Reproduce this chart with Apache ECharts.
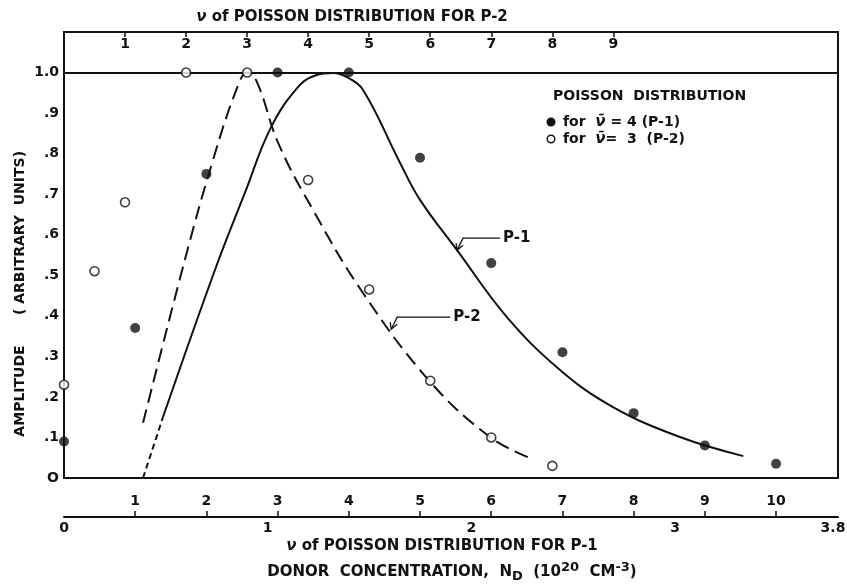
<!DOCTYPE html>
<html>
<head>
<meta charset="utf-8">
<script src="https://cdn.jsdelivr.net/npm/echarts@6/dist/echarts.min.js"></script>
<style>
  html, body { margin: 0; padding: 0; background: #fff; }
  #chart { width: 847px; height: 584px; }
</style>
</head>
<body>
<div id="chart"></div>
<script>
// measured points, P-1 on the bottom nu axis, P-2 on the top nu axis
var p1Nu = [0, 1, 2, 3, 4, 5, 6, 7, 8, 9, 10];
var p1Amp = [0.09, 0.37, 0.75, 1.0, 1.0, 0.79, 0.53, 0.31, 0.16, 0.08, 0.035];
var p2Nu = [0, 0.5, 1, 2, 3, 4, 5, 6, 7, 8];
var p2Amp = [0.23, 0.51, 0.68, 1.0, 1.0, 0.735, 0.465, 0.24, 0.10, 0.03];

// drawn curves
var p1CurveNu = [1.39, 2.12, 2.54, 2.91, 3.31, 3.55, 3.78, 3.97, 4.20, 4.72, 5.0, 5.52, 6.22, 6.97, 7.71, 8.65, 9.54];
var p1CurveAmp = [0.15, 0.513, 0.703, 0.866, 0.969, 0.994, 0.999, 0.989, 0.957, 0.777, 0.686, 0.562, 0.397, 0.266, 0.175, 0.101, 0.054];
var p1FootNu = [1.11, 1.39];
var p1FootAmp = [0, 0.15];
var p2CurveNu = [1.295, 1.98, 2.44, 2.84, 3.0, 3.16, 3.51, 4.08, 4.90, 6.0, 6.98, 7.64];
var p2CurveAmp = [0.136, 0.538, 0.784, 0.964, 1.0, 0.977, 0.826, 0.661, 0.456, 0.237, 0.101, 0.049];

var nuBottomTicks = [1, 2, 3, 4, 5, 6, 7, 8, 9, 10];
var nuTopTicks = [1, 2, 3, 4, 5, 6, 7, 8, 9];
var donorTicks = [0, 1, 2, 3, 3.8];

function pairs(xs, ys) {
  return xs.map(function (x, i) { return [x, ys[i]]; });
}

var font = 'DejaVu Sans';
var ink = '#111';
var labelStyle = { color: ink, fontFamily: font, fontSize: 14, fontWeight: 'bold' };

var chart = echarts.init(document.getElementById('chart'));

var option = {
  animation: false,
  grid: {
    left: 64, right: 9, top: 32, bottom: 106,
    outerBoundsMode: 'none', containLabel: false,
    show: true, borderColor: ink, borderWidth: 2, backgroundColor: 'transparent'
  },
  xAxis: [
    {
      type: 'value', min: 0, max: 10.87, position: 'bottom', offset: 39,
      axisLine: { show: true, onZero: false, lineStyle: { color: ink, width: 2 } },
      axisTick: { show: true, inside: true, length: 6, lineStyle: { color: ink, width: 1.5 }, customValues: nuBottomTicks },
      axisLabel: Object.assign({ inside: true, margin: 9, customValues: nuBottomTicks }, labelStyle),
      splitLine: { show: false }
    },
    {
      type: 'value', min: 0, max: 3.8, position: 'bottom', offset: 39,
      axisLine: { show: false },
      axisTick: { show: false },
      axisLabel: Object.assign({
        margin: 4, customValues: donorTicks,
        formatter: function (v) { return v > 3.5 ? '{end|' + v + '}' : String(v); },
        rich: { end: { color: ink, fontFamily: font, fontSize: 14, fontWeight: 'bold', padding: [0, 10, 0, 0] } }
      }, labelStyle),
      splitLine: { show: false }
    },
    {
      type: 'value', min: 0, max: 12.68, position: 'top',
      axisLine: { show: false },
      axisTick: { show: true, inside: true, length: 5, lineStyle: { color: ink, width: 1.5 }, customValues: nuTopTicks },
      axisLabel: Object.assign({ inside: true, margin: 5, customValues: nuTopTicks }, labelStyle),
      splitLine: { show: false }
    }
  ],
  yAxis: {
    type: 'value', min: 0, max: 1.1, interval: 0.1,
    axisLine: { show: false },
    axisTick: { show: false },
    splitLine: { show: false },
    axisLabel: Object.assign({
      margin: 5,
      formatter: function (v) {
        if (v > 1.05) return '';
        if (v < 0.01) return 'O';
        if (v > 0.95) return '1.0';
        return '.' + Math.round(v * 10);
      }
    }, labelStyle)
  },
  series: [
    {
      name: 'P-1', type: 'line', xAxisIndex: 0, smooth: 0.4, symbol: 'none',
      data: pairs(p1CurveNu, p1CurveAmp),
      lineStyle: { color: ink, width: 2 },
      markLine: {
        silent: true, symbol: 'none', label: { show: false },
        lineStyle: { color: ink, width: 2, type: 'solid' },
        data: [{ yAxis: 1.0 }]
      }
    },
    {
      name: 'P-1 foot', type: 'line', xAxisIndex: 0, symbol: 'none',
      data: pairs(p1FootNu, p1FootAmp),
      lineStyle: { color: ink, width: 2, type: [6, 4] }
    },
    {
      name: 'P-2', type: 'line', xAxisIndex: 2, smooth: 0.4, symbol: 'none',
      data: pairs(p2CurveNu, p2CurveAmp),
      lineStyle: { color: ink, width: 2, type: [14, 7] }
    },
    {
      name: 'P-1 points', type: 'scatter', xAxisIndex: 0, symbolSize: 10,
      data: pairs(p1Nu, p1Amp),
      itemStyle: { color: ink }, z: 5
    },
    {
      name: 'P-2 points', type: 'scatter', xAxisIndex: 2, symbolSize: 9,
      data: pairs(p2Nu, p2Amp),
      itemStyle: { color: '#fff', borderColor: ink, borderWidth: 1.6 }, z: 5
    }
  ]
};

chart.setOption(option);

// annotations placed from data positions on the curves
var tip1 = chart.convertToPixel({ xAxisIndex: 0, yAxisIndex: 0 }, [5.52, 0.562]);
var tip2 = chart.convertToPixel({ xAxisIndex: 2, yAxisIndex: 0 }, [5.36, 0.367]);

function pointer(tip, len, label) {
  var bx = tip[0] + 6, by = tip[1] - 12;
  return [
    { type: 'polyline', shape: { points: [[tip[0], tip[1]], [bx, by], [bx + len, by]] }, style: { stroke: ink, lineWidth: 1.3, fill: null } },
    { type: 'polyline', shape: { points: [[tip[0] - 1, tip[1] - 7], [tip[0], tip[1]], [tip[0] + 6, tip[1] - 5]] }, style: { stroke: ink, lineWidth: 1.3, fill: null } },
    { type: 'text', x: bx + len + 3, y: by, style: { text: label, font: 'bold 15px ' + font, fill: ink, textVerticalAlign: 'middle' } }
  ];
}

var titleFont = 'bold 15px ' + font;
var nuRich = { nu: { fontFamily: font, fontSize: 15, fontStyle: 'italic', fontWeight: 'bold', fill: ink } };
var ndRich = {
  sub: { fontSize: 13, fontFamily: font, fontWeight: 'bold', fill: ink, padding: [9, 0, 0, 0] },
  sup: { fontSize: 13, fontFamily: font, fontWeight: 'bold', fill: ink, padding: [0, 0, 9, 0] }
};

chart.setOption({
  graphic: pointer(tip1, 37, 'P-1').concat(pointer(tip2, 53, 'P-2')).concat([
    { type: 'text', x: 352, y: 17, style: { text: '{nu|ν} of POISSON DISTRIBUTION FOR P-2', rich: nuRich, font: titleFont, fill: ink, textAlign: 'center', textVerticalAlign: 'middle' } },
    { type: 'text', x: 442, y: 546, style: { text: '{nu|ν} of POISSON DISTRIBUTION FOR P-1', rich: nuRich, font: titleFont, fill: ink, textAlign: 'center', textVerticalAlign: 'middle' } },
    { type: 'text', x: 452, y: 572, style: {
      text: 'DONOR  CONCENTRATION,  N{sub|D}  (10{sup|20}  CM{sup|-3})',
      rich: ndRich, font: titleFont, fill: ink, textAlign: 'center', textVerticalAlign: 'middle' } },
    { type: 'text', x: 20, y: 391, rotation: Math.PI / 2, style: { text: 'AMPLITUDE', font: 'bold 14px ' + font, fill: ink, textAlign: 'center', textVerticalAlign: 'middle' } },
    { type: 'text', x: 20, y: 233, rotation: Math.PI / 2, style: { text: '( ARBITRARY  UNITS)', font: 'bold 14px ' + font, fill: ink, textAlign: 'center', textVerticalAlign: 'middle' } },
    { type: 'text', x: 553, y: 96, style: { text: 'POISSON  DISTRIBUTION', font: 'bold 14px ' + font, fill: ink, textVerticalAlign: 'middle' } },
    { type: 'circle', shape: { cx: 551, cy: 122, r: 4.5 }, style: { fill: ink } },
    { type: 'text', x: 563, y: 122, style: { text: 'for  {nu|ν̄} = 4 (P-1)', rich: nuRich, font: 'bold 14px ' + font, fill: ink, textVerticalAlign: 'middle' } },
    { type: 'circle', shape: { cx: 551, cy: 139, r: 3.8 }, style: { fill: '#fff', stroke: ink, lineWidth: 1.5 } },
    { type: 'text', x: 563, y: 139, style: { text: 'for  {nu|ν̄}=  3  (P-2)', rich: nuRich, font: 'bold 14px ' + font, fill: ink, textVerticalAlign: 'middle' } }
  ])
});
</script>
</body>
</html>
